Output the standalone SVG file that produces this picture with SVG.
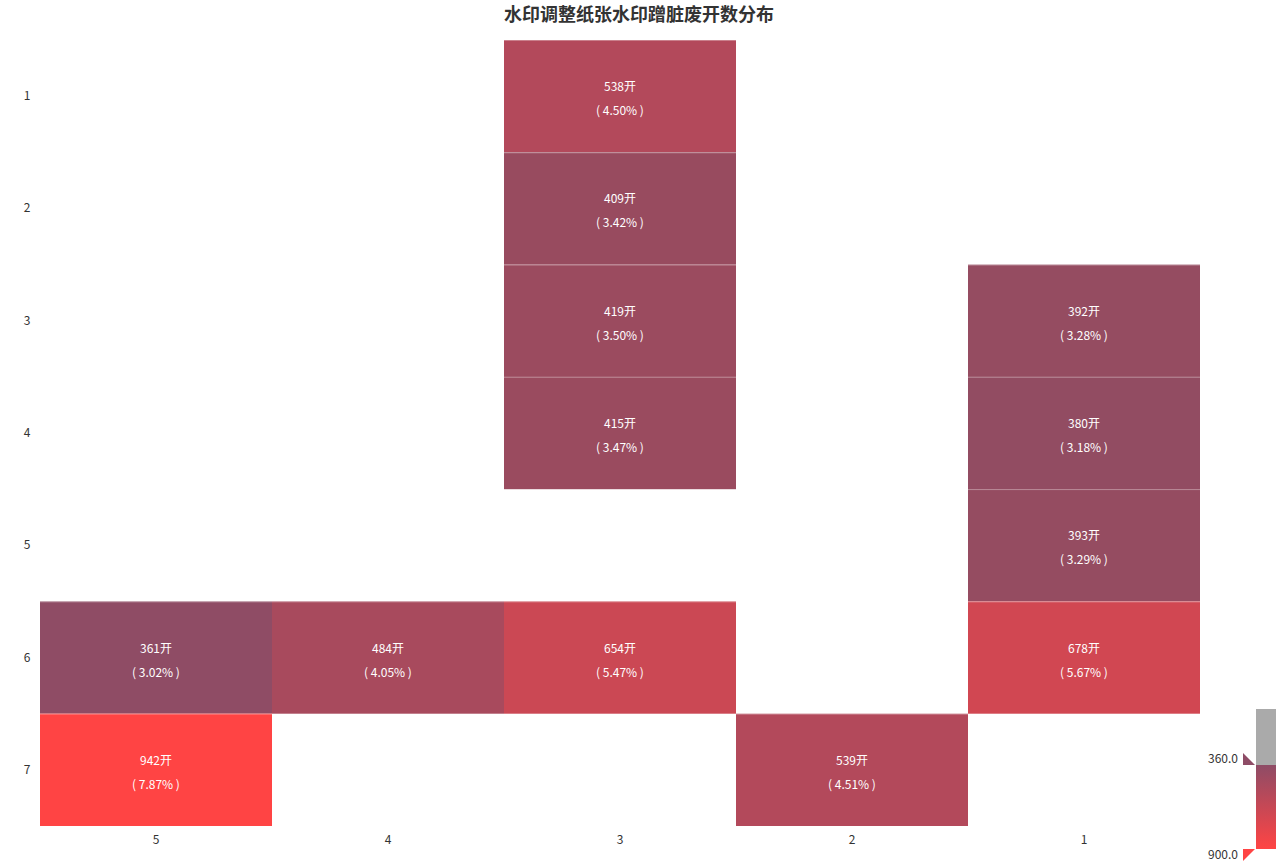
<svg xmlns="http://www.w3.org/2000/svg" width="1280" height="866" viewBox="0 0 1280 866">
<defs>
<linearGradient id="lg" x1="0" y1="0" x2="0" y2="1">
<stop offset="0" stop-color="#8e4c66"/>
<stop offset="1" stop-color="#ff4444"/>
</linearGradient>
</defs>
<style>
text{font-family:"Noto Sans CJK SC","Noto Sans",sans-serif;}
.t{font-size:18px;font-weight:bold;fill:#333;text-anchor:middle;}
.ax{font-size:12px;fill:#333;text-anchor:middle;dominant-baseline:central;}
.v{font-size:12px;fill:#fff;text-anchor:middle;dominant-baseline:central;}
.sep{stroke:#fff;stroke-opacity:0.3;stroke-width:1;}
.lg{font-size:12px;fill:#333;text-anchor:end;dominant-baseline:central;}
</style>
<rect width="1280" height="866" fill="#fff"/>
<text class="t" x="639" y="21">水印调整纸张水印蹭脏废开数分布</text>
<g id="yaxis">
<text class="ax" x="27" y="94.5">1</text>
<text class="ax" x="27" y="206.5">2</text>
<text class="ax" x="27" y="319">3</text>
<text class="ax" x="27" y="431.5">4</text>
<text class="ax" x="27" y="543.5">5</text>
<text class="ax" x="27" y="656">6</text>
<text class="ax" x="27" y="768.5">7</text>
</g>
<g id="xaxis">
<text class="ax" x="156" y="838">5</text>
<text class="ax" x="388" y="838">4</text>
<text class="ax" x="620" y="838">3</text>
<text class="ax" x="852" y="838">2</text>
<text class="ax" x="1084" y="838">1</text>
</g>
<g id="c3r1"><rect x="504" y="40" width="232" height="112.3" fill="#b3495b"/><line class="sep" x1="504" y1="40.5" x2="736" y2="40.5"/><text class="v" x="620" y="85">538开</text><text class="v" x="620" y="109">( 4.50% )</text></g>
<g id="c3r2"><rect x="504" y="152.3" width="232" height="112.3" fill="#984b5f"/><line class="sep" x1="504" y1="152.8" x2="736" y2="152.8"/><text class="v" x="620" y="197">409开</text><text class="v" x="620" y="221">( 3.42% )</text></g>
<g id="c3r3"><rect x="504" y="264.6" width="232" height="112.3" fill="#9b4b5f"/><line class="sep" x1="504" y1="265.1" x2="736" y2="265.1"/><text class="v" x="620" y="310">419开</text><text class="v" x="620" y="334">( 3.50% )</text></g>
<g id="c3r4"><rect x="504" y="376.9" width="232" height="112.3" fill="#9a4b5f"/><line class="sep" x1="504" y1="377.4" x2="736" y2="377.4"/><text class="v" x="620" y="422">415开</text><text class="v" x="620" y="446">( 3.47% )</text></g>
<g id="c1r3"><rect x="968" y="264.6" width="232" height="112.3" fill="#954c61"/><line class="sep" x1="968" y1="265.1" x2="1200" y2="265.1"/><text class="v" x="1084" y="310">392开</text><text class="v" x="1084" y="334">( 3.28% )</text></g>
<g id="c1r4"><rect x="968" y="376.9" width="232" height="112.3" fill="#924c62"/><line class="sep" x1="968" y1="377.4" x2="1200" y2="377.4"/><text class="v" x="1084" y="422">380开</text><text class="v" x="1084" y="446">( 3.18% )</text></g>
<g id="c1r5"><rect x="968" y="489.1" width="232" height="112.3" fill="#954c61"/><line class="sep" x1="968" y1="489.6" x2="1200" y2="489.6"/><text class="v" x="1084" y="534">393开</text><text class="v" x="1084" y="558">( 3.29% )</text></g>
<g id="c5r6"><rect x="40" y="601.4" width="232" height="112.3" fill="#8f4c65"/><line class="sep" x1="40" y1="601.9" x2="272" y2="601.9"/><text class="v" x="156" y="647">361开</text><text class="v" x="156" y="671">( 3.02% )</text></g>
<g id="c4r6"><rect x="272" y="601.4" width="232" height="112.3" fill="#a84a5d"/><line class="sep" x1="272" y1="601.9" x2="504" y2="601.9"/><text class="v" x="388" y="647">484开</text><text class="v" x="388" y="671">( 4.05% )</text></g>
<g id="c3r6"><rect x="504" y="601.4" width="232" height="112.3" fill="#cb4854"/><line class="sep" x1="504" y1="601.9" x2="736" y2="601.9"/><text class="v" x="620" y="647">654开</text><text class="v" x="620" y="671">( 5.47% )</text></g>
<g id="c1r6"><rect x="968" y="601.4" width="232" height="112.3" fill="#d14752"/><line class="sep" x1="968" y1="601.9" x2="1200" y2="601.9"/><text class="v" x="1084" y="647">678开</text><text class="v" x="1084" y="671">( 5.67% )</text></g>
<g id="c5r7"><rect x="40" y="713.7" width="232" height="112.3" fill="#ff4444"/><line class="sep" x1="40" y1="714.2" x2="272" y2="714.2"/><text class="v" x="156" y="759">942开</text><text class="v" x="156" y="783">( 7.87% )</text></g>
<g id="c2r7"><rect x="736" y="713.7" width="232" height="112.3" fill="#b3495b"/><line class="sep" x1="736" y1="714.2" x2="968" y2="714.2"/><text class="v" x="852" y="759">539开</text><text class="v" x="852" y="783">( 4.51% )</text></g>
<g id="legend">
<rect x="1256" y="709" width="20" height="56" fill="#aaaaaa"/>
<rect x="1256" y="765" width="20" height="84" fill="url(#lg)"/>
<polygon points="1243,753 1255,765 1243,765" fill="#8e4c66"/>
<polygon points="1243,849 1255,849 1243,861" fill="#ff4444"/>
<text class="lg" x="1238" y="757.5">360.0</text>
<text class="lg" x="1238" y="853.5">900.0</text>
</g>
</svg>
